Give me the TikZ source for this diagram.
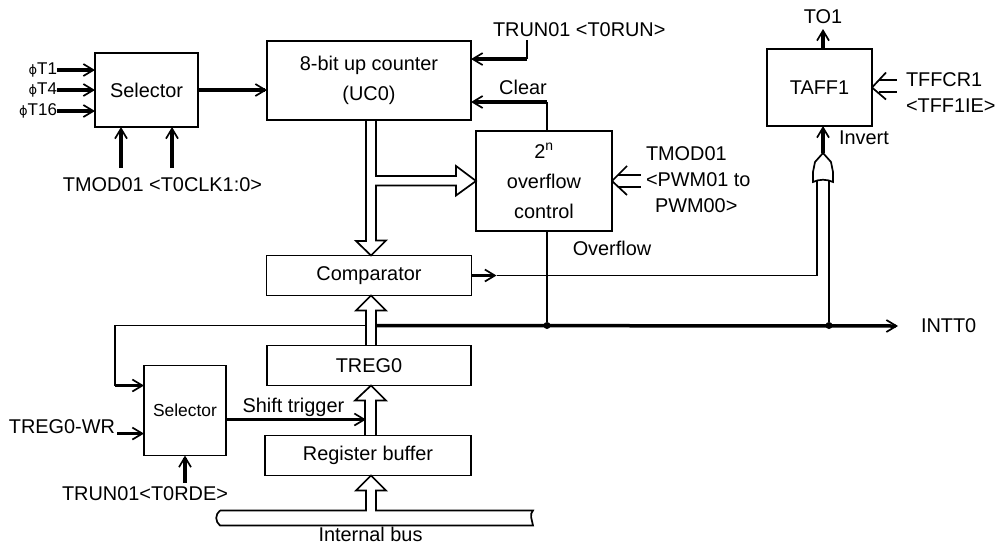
\documentclass[tikz,border=0pt]{standalone}
\usepackage{fontspec}
\setmainfont{Liberation Sans}
\newfontfamily\phifont{DejaVu Sans}
\usetikzlibrary{arrows.meta, positioning}
\tikzset{
    block/.style={rectangle, draw, line width=1.7pt, inner sep=0pt, outer sep=0pt,
                  align=center, font=\fontsize{19.9}{30}\selectfont},
    lbl/.style={inner sep=0pt, outer sep=0pt, font=\fontsize{19.9}{26}\selectfont},
    phi/.style={lbl, left=38pt of selclk, font=\fontsize{17}{20}\selectfont},
    wire/.style={-, line width=1.7pt},
    sig/.style={-{Straight Barb[length=10pt,width=12pt,line width=1.7pt]}, line width=3.5pt},
    wbus/.style={-, line width=1.7pt, line join=miter},
    junction/.style={circle, fill, minimum size=7pt, inner sep=0pt},
}
\begin{document}
\begin{tikzpicture}[x=1pt, y=-1pt]
    \useasboundingbox (0,0) rectangle (995,544);
    % main column
    \node[block, minimum width=204pt, minimum height=79pt] (counter) at (369,80.5) {8-bit up counter\\(UC0)};
    \node[block, below=135.5pt of counter, minimum width=205pt, minimum height=40pt] (comparator) {Comparator};
    \node[block, below=50pt of comparator, minimum width=204pt, minimum height=40pt] (treg) {TREG0};
    \node[block, below=50pt of treg, xshift=-1pt, minimum width=206pt, minimum height=40pt] (regbuf) {Register buffer};
    \node[below=35pt of regbuf, xshift=8.5pt, minimum width=313pt, minimum height=15pt, inner sep=0pt, outer sep=0pt] (bus) {};
    \node[lbl, below=2pt of bus, xshift=-6pt] (buslbl) {Internal bus};
    % clock selector
    \node[block, left=69pt of counter, yshift=-9.5pt, minimum width=103pt, minimum height=74pt] (selclk) {Selector};
    \node[phi, yshift=20pt] (phione) {{\phifont\fontsize{13}{20}\selectfont ϕ}T1};
    \node[phi] (phifour) {{\phifont\fontsize{13}{20}\selectfont ϕ}T4};
    \node[phi, yshift=-21pt] (phisixteen) {{\phifont\fontsize{13}{20}\selectfont ϕ}T16};
    \node[lbl, below=41pt of selclk, xshift=16pt, inner ysep=10pt] (clklbl) {TMOD01 <T0CLK1:0>};
    % overflow control
    \node[block, below right=11pt and 5pt of counter.south east, minimum width=136pt, minimum height=100pt] (ovf)
        {2\textsuperscript{n}\\overflow\\control};
    \node[lbl, right=34pt of ovf, align=left, yshift=1pt] (pwmlbl) {TMOD01\\<PWM01 to\\\hspace*{9pt}PWM00>};
    \node[lbl, below=10pt of ovf.south east] (ovflbl) {Overflow};
    \node[lbl, right=22pt of counter.north east, yshift=11pt] (trunlbl) {TRUN01 <T0RUN>};
    % flip-flop
    \node[block, minimum width=105pt, minimum height=77pt] (taff) at (819.5,87.5) {TAFF1};
    \node[lbl, above=25pt of taff, xshift=3.5pt] (tolbl) {TO1};
    \node[lbl, right=34pt of taff, align=left, yshift=-5.5pt] (tffcrlbl) {TFFCR1\\<TFF1IE>};
    \node[lbl, below=5pt of taff.south east, xshift=-8pt] (invlbl) {Invert};
    % rewrite selector
    \node[block, left=41pt of treg, yshift=-45pt, minimum width=82pt, minimum height=90pt,
          font=\fontsize{17.4}{20}\selectfont] (selwr) {Selector};
    \node[lbl, left=29pt of selwr, yshift=-16pt] (wrlbl) {TREG0-WR};
    \node[lbl, below=27pt of selwr, xshift=-40pt, inner ysep=4pt] (rdelbl) {TRUN01<T0RDE>};
    \node[lbl, right=16.5pt of selwr.east, yshift=3pt] (shiftlbl) {Shift trigger};
    \node[lbl, inner xsep=23pt, anchor=west] (inttlbl) at (898,326) {INTT0};
    % helper points
    \coordinate (tap) at ([xshift=7pt,yshift=-30pt]comparator.south);
    \coordinate (tapleft) at ([xshift=-3pt,yshift=-30pt]comparator.south);
    \coordinate (clearturn) at ([xshift=3pt,yshift=29pt]ovf.north);
    \coordinate (trunturn) at ([xshift=34pt,yshift=-22pt]trunlbl.south west);
    \coordinate (feedback) at ([xshift=-29pt,yshift=25pt]selwr.west);
    \coordinate (ortip) at ([xshift=3.5pt,yshift=-27pt]taff.south);
    \coordinate (orleft) at ([xshift=-6pt,yshift=-28pt]ortip);
    \coordinate (orright) at ([xshift=6pt,yshift=-28pt]ortip);
    \node[junction] (ovfdot) at ([xshift=3pt]ovf.south |- tap) {};
    \node[junction] (ordot) at (orright |- tap) {};
    \node[lbl] (clearlbl) at ([yshift=15pt,xshift=-24pt]clearturn) {Clear};
    % clock inputs
    \draw[sig] (phione.east) -- (phione.east -| selclk.west);
    \draw[sig] (phifour.east) -- (phifour.east -| selclk.west);
    \draw[sig] (phisixteen.east) -- (phisixteen.east -| selclk.west);
    \draw[sig] ([xshift=-41.5pt]clklbl.north) -- ([xshift=-25.5pt]selclk.south);
    \draw[sig] ([xshift=9.5pt]clklbl.north) -- ([xshift=25.5pt]selclk.south);
    \draw[sig] (selclk.east) -- (selclk.east -| counter.west);
    % run and clear
    \draw[wire] ([xshift=34pt,yshift=-3pt]trunlbl.south west) -- (trunturn);
    \draw[sig] (trunturn) -- (trunturn -| counter.east);
    \draw[wire] ([xshift=3pt]ovf.north) -- (clearturn);
    \draw[sig] (clearturn) -- (clearturn -| counter.east);
    % wide buses
    \draw[wbus] ([xshift=-3pt]counter.south) -- ++(0,121) -- ++(-10,0) -- ([xshift=2pt]comparator.north)
        -- ++(15,-15) -- ++(-10,0) -- ++(0,-55) -- ++(80,0) -- ++(0,10) -- (ovf.west)
        -- ++(-20,-15) -- ++(0,10) -- ++(-80,0) -- ([xshift=7pt]counter.south);
    \draw[wbus] ([xshift=-3pt]treg.north) -- ++(0,-35) -- ++(-10,0) -- ([xshift=2pt]comparator.south)
        -- ++(15,15) -- ++(-10,0) -- ++(0,35);
    \draw[wbus] ([xshift=-3pt]regbuf.north) -- ++(0,-35) -- ++(-10,0) -- ([xshift=2pt]treg.south)
        -- ++(15,15) -- ++(-10,0) -- ++(0,35);
    \draw[wbus] (bus.north west) -- ([xshift=-2pt]regbuf.south |- bus.north) -- ++(0,-20) -- ++(-10,0)
        -- ([xshift=3pt]regbuf.south) -- ++(15,15) -- ++(-10,0) -- ++(0,20) -- (bus.north east)
        .. controls +(-4,4) and +(-1,-6) .. (bus.south east) -- (bus.south west)
        .. controls +(-5,-4) and +(-5,4) .. (bus.north west);
    % overflow and interrupt lines
    \draw[wire] ([xshift=3pt]ovf.south) -- (ovfdot);
    \draw[sig] (tap) -- (inttlbl.west);
    \draw[wire] (tapleft) -| (feedback);
    \draw[sig] (feedback) -- (feedback -| selwr.west);
    % mode inputs
    \draw[wire] (ovf.east) -- ++(15,-15);
    \draw[wire] (ovf.east) -- ++(15,14);
    \draw[wire] ([xshift=6pt,yshift=6pt]ovf.east) -- ++(23,0);
    \draw[wire] ([xshift=6pt,yshift=-6pt]ovf.east) -- ++(23,0);
    \draw[wire] (taff.east) -- ++(14,-15);
    \draw[wire] (taff.east) -- ++(14,12);
    \draw[wire] ([xshift=7pt,yshift=7.5pt]taff.east) -- ++(18,0);
    \draw[wire] ([xshift=7pt,yshift=-4.5pt]taff.east) -- ++(18,0);
    % flip-flop connections
    \draw[sig] ([xshift=3.5pt]taff.north) -- ([yshift=-5pt]tolbl.south);
    \draw[sig] (ortip) -- ([xshift=3.5pt]taff.south);
    \draw[sig] (comparator.east) -- ++(25,0);
    \draw[wire] ([xshift=25pt]comparator.east) -| (orleft);
    \draw[wire] (orright) -- (ordot);
    \draw[wire, fill=white] (ortip) -- ++(-8,9) -- ++(-2,10) -- ++(0,10) .. controls +(6,-3) and +(-6,-3) .. ++(20,0)
        -- ++(0,-10) -- ++(-2,-10) -- cycle;
    % rewrite selector connections
    \draw[sig] ([xshift=2pt]wrlbl.south east) -- (wrlbl.south east -| selwr.west);
    \draw[sig] (rdelbl.north -| selwr.south) -- (selwr.south);
    \draw[sig] ([yshift=-9pt]selwr.east) -- ++(140,0);
\end{tikzpicture}
\end{document}
